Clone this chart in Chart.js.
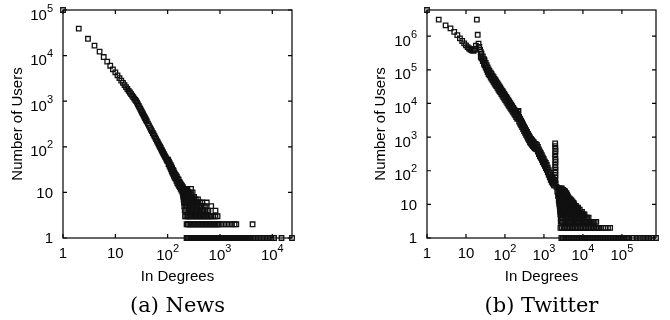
<!DOCTYPE html>
<html>
<head>
<meta charset="utf-8">
<script src="https://cdn.jsdelivr.net/npm/chart.js@4.4.1/dist/chart.umd.min.js"></script>
<style>
body { margin: 0; background: #fff; }
#wrap { position: relative; width: 670px; height: 320px; }
canvas { position: absolute; top: 0; }
</style>
</head>
<body>
<div id="wrap">
  <canvas id="newsChart" width="335" height="320" style="left:0"></canvas>
  <canvas id="twitterChart" width="335" height="320" style="left:335px"></canvas>
</div>
<script>
// ---- data: [in-degree, number of users] ----
const newsHead = [
  [1,100000],[2,39000],[3,23400],[4,16500],[5,12200],[6,9300],[7,7400],[8,6000],[9,5000],[10,4300],
  [11,3700],[12,3220],[13,2830],[14,2520],[15,2260],[16,2040],[17,1850],[18,1690],[19,1550],[20,1430],
  [21,1320],[22,1230],[23,1140],[24,1070],[25,1000],[26,927],[27,854],[28,787],[29,729],[30,676],
  [31,630],[32,586],[33,548],[34,514],[35,482],[36,453],[37,427],[38,402],[39,379],[40,359],
  [42,323],[44,291],[46,264],[48,240],[50,220],[52,201],[54,186],[56,171],[58,159],[60,147],
  [62,137],[64,128],[66,119],[68,112],[70,105],[72,99],[74,93],[76,87],[78,83],[80,78],
  [82,74],[84,70],[86,67],[88,63],[90,60],[92,58],[94,55],[96,52],[98,50],[100,48],
  [102,52],[104,42],[106,47],[108,38],[110,43],[112,35],[114,40],[116,32],[118,37],[120,29],
  [122,34],[124,27],[126,31],[128,25],[130,30],[132,23],[134,27],[136,21],[138,25],[141,20],
  [144,24],[147,18],[150,22],[153,16],[156,20],[159,15],[162,19],[165,14],[168,17],[171,13],
  [174,16],[177,12],[180,15],[184,11],[188,14],[192,10],[196,13],[200,9],[205,12],[210,8],
  [215,11],[220,7],[226,10],[232,9]
];
// small counts form rows: one list of degrees per count
const newsTailCounts = [1, 2, 3, 4, 5, 6, 7, 8, 9, 10, 11, 12];
const newsTailDegrees = [
  [230,244,259,274,291,308,327,346,367,389,413,437,464,491,521,552,585,620,658,697,739,783,830,880,933,989,
   1048,1111,1178,1248,1323,1403,1487,1576,1671,1771,1877,1990,2109,2236,2370,2512,2663,2823,2992,3172,3362,3564,3778,
   4300,4900,5600,6400,7300,8300,9500,10800,15000,23800],
  [230,244,259,274,291,308,327,346,367,389,413,437,464,491,521,552,585,620,658,697,739,783,830,880,933,989,
   1130,1290,1470,1680,1900,2050,4200],
  [215,228,242,256,271,288,305,323,342,363,385,408,432,458,486,515,546,578,613,650,690,750,820,900],
  [212,225,238,253,268,284,301,319,338,358,380,403,427,452,480,520,560,600,820],
  [208,220,233,247,262,278,295,312,331,351,372,395,420,450,490,530,680],
  [205,217,230,244,259,274,291,308,327,346,367,389,420,460,560],
  [202,214,227,241,255,270,287,304,322,345,380],
  [200,212,225,238,253,268,284,301,320],
  [198,210,223,236,250,265,281],
  [196,208,220,233,247,262,300],
  [205,218,240],
  [210,235,280]
];

const twitterHead = [
  [1,6.0e6],[2,3.1e6],[3,2.1e6],[4,1.7e6],[5,1.35e6],[6,1.07e6],[7,8.6e5],[8,7.2e5],[9,6.1e5],[10,5.3e5],
  [11,4.7e5],[12,4.3e5],[13,4.0e5],[14,3.8e5],[15,3.7e5],[16,3.75e5],[17,4.2e5],[18,5.2e5],[19,3.1e6],[20,1.1e6],
  [21,6.0e5],[22,4.8e5],[23,3.9e5]
];
// the thick straight part: upper and lower edge of the band
const twitterBand = [
  [24,3.39e5],[24,2.45e5],[25,3.04e5],[25,2.2e5],[27,2.49e5],[27,1.81e5],[29,2.07e5],[29,1.5e5],[30,1.9e5],[30,1.37e5],
  [32,1.6e5],[32,1.16e5],[34,1.37e5],[34,9.9e4],[36,1.18e5],[36,8.6e4],[38,1.02e5],[38,7.4e4],[40,9.3e4],[40,6.8e4],
  [43,8.2e4],[43,6.0e4],[45,7.6e4],[45,5.5e4],[48,6.7e4],[48,4.9e4],[51,6.0e4],[51,4.4e4],[54,5.4e4],[54,3.9e4],
  [57,4.9e4],[57,3.6e4],[60,4.5e4],[60,3.3e4],[64,4.0e4],[64,2.9e4],[68,3.6e4],[68,2.6e4],[72,3.2e4],[72,2.35e4],
  [76,2.94e4],[76,2.13e4],[81,2.62e4],[81,1.9e4],[86,2.36e4],[86,1.71e4],[91,2.13e4],[91,1.54e4],[96,1.93e4],[96,1.4e4],
  [102,1.73e4],[102,1.26e4],[108,1.56e4],[108,1.13e4],[115,1.4e4],[115,1.01e4],[122,1.26e4],[122,9100],[129,1.14e4],[129,8200],
  [137,1.02e4],[137,7400],[145,9200],[145,6700],[154,8300],[154,6000],[163,7400],[163,5400],[173,6700],[173,4900],
  [183,6100],[183,4400],[194,5400],[194,3900],[206,4900],[206,3500],[218,5600],[222,6000],[218,3700],[231,4000],
  [231,2900],[245,3500],[245,2540],[260,3080],[260,2230],[275,2720],[275,1970],[292,2380],[292,1720],[310,2080],
  [310,1510],[328,1840],[328,1330],[348,1610],[348,1170],[369,1420],[369,1030],[391,1250],[391,900],[414,1100],
  [414,800],[439,970],[439,700],[466,880],[466,640],[494,810],[494,585],[523,750],[523,540],[555,690],
  [555,500],[588,630],[588,460],[623,620],[623,450],[661,590],[661,430],[700,510],[700,370],[742,430],
  [742,310],[787,375],[787,270],[834,330],[834,240],[884,290],[884,210],[937,250],[937,180],[994,220],
  [994,160],[1053,190],[1053,140],[1117,170],[1117,120],[1184,148],[1184,107],[1255,124],[1255,90],[1330,104],
  [1330,76],[1410,88],[1410,64],[1494,74],[1494,54],[1584,65],[1584,47],[1679,58],[1679,42],[1780,52],
  [1780,38],[1850,50],[1850,36]
];
// the narrow spike near 2000 and the foot of the band
const twitterSpike = [
  [1940,650],[1950,540],[1960,450],[1970,375],[1945,310],[1955,260],[1965,215],[1975,180],[1950,150],[1960,125],
  [1970,105],[1955,88],[1965,74],[1960,62],[1950,52],
  [2000,42],[2100,33],[2200,24],[2300,18],[2400,13]
];
const twitterTailCounts = [30, 27, 25, 24, 22, 21, 19, 18, 17, 16, 15, 14, 13, 12, 11, 10, 9, 8, 7, 6, 5, 4, 3, 2, 1];
const twitterTailDegrees = [
  [2350,2500,2680,2870],
  [2400,2570,2750,2940,3150],
  [2400,2570,2750,2940,3150,3370],
  [2400,2570,2750,2940,3150,3370,3500],
  [2400,2570,2750,2940,3150,3370,3600],
  [2400,2570,2750,2940,3150,3370,3600,3800],
  [2420,2590,2770,2960,3170,3390,3620,3900],
  [2420,2590,2770,2960,3170,3390,3620,3870,4000],
  [2450,2620,2800,3000,3200,3420,3660,3920,4100],
  [2450,2620,2800,3000,3200,3420,3660,3920,4200],
  [2450,2620,2800,3000,3200,3420,3660,3920,4200,4500],
  [2480,2650,2840,3040,3250,3480,3720,3980,4260,4560,4750],
  [2480,2650,2840,3040,3250,3480,3720,3980,4260,4560,4880,5050],
  [2500,2680,2860,3060,3280,3510,3750,4010,4290,4590,4920,5260,5400],
  [2500,2680,2860,3060,3280,3510,3750,4010,4290,4590,4920,5260,5630,5750],
  [2500,2680,2860,3060,3280,3510,3750,4010,4290,4590,4920,5260,5630,6000],
  [2550,2730,2920,3120,3340,3580,3830,4100,4380,4690,5020,5370,5750,6150,6600],
  [2550,2730,2920,3120,3340,3580,3830,4100,4380,4690,5020,5370,5750,6150,6580,7040,7500],
  [2600,2780,2980,3190,3410,3650,3900,4170,4470,4780,5110,5470,5850,6260,6700,7170,7670,8300],
  [2600,2780,2980,3190,3410,3650,3900,4170,4470,4780,5110,5470,5850,6260,6700,7170,7670,8210,8780,9500],
  [2650,2840,3030,3250,3470,3720,3980,4260,4550,4870,5210,5580,5970,6390,6830,7310,7820,8370,8960,9590,10300,11000],
  [2700,2890,3090,3310,3540,3790,4050,4340,4640,4960,5310,5690,6080,6510,6970,7450,7980,8530,9130,9770,10500,11200,
   12000,12900,14000],
  [2700,2890,3090,3310,3540,3790,4050,4340,4640,4960,5310,5690,6080,6510,6970,7450,7980,8530,9130,9770,10500,11200,
   12000,12900,13800,14700,15800,16900,18500,20000,22000],
  [2650,2900,3200,3500,3850,4250,4650,5150,5650,6200,6850,7500,8300,9100,10000,11000,12100,13300,14700,16100,
   17700,19500,21500,23600,26000,29000,33000,38000,44000,50000],
  [2800,3050,3350,3700,4050,4450,4900,5400,5950,6550,7200,7900,8700,9600,10500,11600,12700,14000,15400,16900,
   18600,20500,22500,24800,27300,30000,33000,36300,40000,44000,48400,53200,58500,64400,70800,77900,85700,94200,
   104000,114000,126000,138000,148000,200000,240000,290000,350000,420000,500000,600000,750000]
];

const newsXTicks = [1, 10, 100, 1000, 10000];
const newsYTicks = [1, 10, 100, 1000, 10000, 100000];
const twitterXTicks = [1, 10, 100, 1000, 10000, 100000];
const twitterYTicks = [1, 10, 100, 1000, 10000, 100000, 1000000];

// ---- helpers ----
function toPoints(lists, counts, degrees) {
  const pts = [];
  lists.forEach(l => l.forEach(p => pts.push({ x: p[0], y: p[1] })));
  counts.forEach((c, i) => {
    degrees[i].forEach(d => pts.push({ x: d, y: c }));
  });
  return pts;
}

const bigFont = '15px "Liberation Sans", Arial, sans-serif';
const smallFont = '11px "Liberation Sans", Arial, sans-serif';

// "10" with a raised exponent, like the gnuplot labels
function drawPowLabel(ctx, v, x, y, axis) {
  const e = Math.round(Math.log10(v));
  const base = e === 0 ? '1' : '10';
  const exp = e >= 2 ? String(e) : '';
  ctx.font = bigFont;
  const w1 = ctx.measureText(base).width;
  let w2 = 0;
  if (exp) { ctx.font = smallFont; w2 = ctx.measureText(exp).width; }
  let left, baseY;
  if (axis === 'y') {
    left = x - w1 - w2;
    baseY = exp ? y + 9.5 : y + 5.4;
  } else {
    left = x - (w1 + w2) / 2;
    baseY = exp ? y + 22 : y + 20.3;
  }
  ctx.font = bigFont;
  ctx.fillText(base, left, baseY);
  if (exp) {
    ctx.font = smallFont;
    ctx.fillText(exp, left + w1, baseY - 8);
  }
}

const frame = {
  id: 'frame',
  beforeDatasetsDraw(chart) {
    const { ctx, chartArea: a, scales } = chart;
    ctx.save();
    ctx.strokeStyle = '#000';
    ctx.lineWidth = 1.2;
    ctx.strokeRect(a.left, a.top, a.right - a.left, a.bottom - a.top);
    ctx.beginPath();
    scales.x.ticks.forEach(t => {
      const px = scales.x.getPixelForValue(t.value);
      ctx.moveTo(px, a.bottom); ctx.lineTo(px, a.bottom - 4);
      ctx.moveTo(px, a.top); ctx.lineTo(px, a.top + 4);
    });
    scales.y.ticks.forEach(t => {
      const py = scales.y.getPixelForValue(t.value);
      ctx.moveTo(a.left, py); ctx.lineTo(a.left + 4, py);
      ctx.moveTo(a.right, py); ctx.lineTo(a.right - 4, py);
    });
    ctx.stroke();
    ctx.restore();
  },
  afterDraw(chart) {
    const { ctx, chartArea: a, scales } = chart;
    ctx.save();
    ctx.fillStyle = '#000';
    ctx.textAlign = 'left';
    ctx.textBaseline = 'alphabetic';
    scales.x.ticks.forEach(t => drawPowLabel(ctx, t.value, scales.x.getPixelForValue(t.value), a.bottom, 'x'));
    scales.y.ticks.forEach(t => drawPowLabel(ctx, t.value, a.left - 10, scales.y.getPixelForValue(t.value), 'y'));
    ctx.restore();
  }
};

Chart.defaults.font.family = "'Liberation Sans', Arial, sans-serif";
Chart.defaults.color = '#000';

function makeChart(id, points, xMax, yMax, xTicks, yTicks, yWidth, rightPad, yTitlePad, caption) {
  return new Chart(document.getElementById(id), {
    type: 'scatter',
    data: {
      datasets: [{
        data: points,
        pointStyle: 'rect',
        pointRadius: 3.2,
        borderWidth: 1.3,
        borderColor: '#111',
        backgroundColor: 'rgba(255,255,255,0)',
        clip: false
      }]
    },
    options: {
      responsive: false,
      animation: false,
      events: [],
      layout: { padding: { left: 0, top: 10, right: rightPad, bottom: 0 } },
      plugins: {
        legend: { display: false },
        tooltip: { enabled: false },
        title: {
          display: true,
          text: caption,
          position: 'bottom',
          fullSize: false,
          color: '#000',
          font: { family: "'DejaVu Serif', serif", size: 21, weight: 'normal' },
          padding: { top: 5, bottom: 1 }
        }
      },
      scales: {
        x: {
          type: 'logarithmic',
          min: 1,
          max: xMax,
          grid: { display: false, drawTicks: false },
          border: { display: false },
          afterBuildTicks: s => { s.ticks = xTicks.map(v => ({ value: v })); },
          afterFit: s => { s.height = 50.8; },
          ticks: { display: false },
          title: { display: true, text: 'In Degrees', font: { size: 15 }, padding: { top: 0, bottom: 3 } }
        },
        y: {
          type: 'logarithmic',
          min: 1,
          max: yMax,
          grid: { display: false, drawTicks: false },
          border: { display: false },
          afterBuildTicks: s => { s.ticks = yTicks.map(v => ({ value: v })); },
          afterFit: s => { s.width = yWidth; },
          ticks: { display: false },
          title: { display: true, text: 'Number of Users', font: { size: 15 }, padding: { top: yTitlePad, bottom: 0 } }
        }
      }
    },
    plugins: [frame]
  });
}

makeChart('newsChart', toPoints([newsHead], newsTailCounts, newsTailDegrees),
  23800, 100000, newsXTicks, newsYTicks, 63, 43, 9, '(a) News');
makeChart('twitterChart', toPoints([twitterHead, twitterBand, twitterSpike], twitterTailCounts, twitterTailDegrees),
  750000, 6000000, twitterXTicks, twitterYTicks, 92, 14, 37, '(b) Twitter');
</script>
</body>
</html>
